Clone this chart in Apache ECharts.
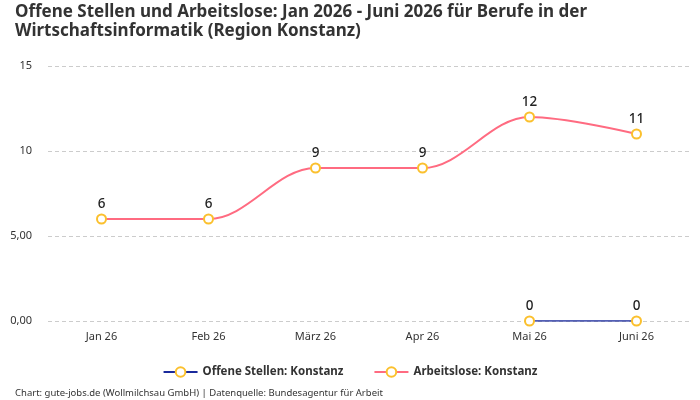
<!DOCTYPE html>
<html><head><meta charset="utf-8">
<script src="https://cdn.jsdelivr.net/npm/echarts@6/dist/echarts.min.js"></script>
<style>html,body{margin:0;padding:0;background:#fff}#c{width:700px;height:400px}</style>
</head><body><div id="c"></div>
<script>
const categories = ['Jan 26','Feb 26','März 26','Apr 26','Mai 26','Juni 26'];
const offeneStellen = [null,null,null,null,0,0];
const arbeitslose = [6,6,9,9,12,11];
const yTickValues = [0,5,10,15];
const yTickLabels = ['0,00','5,00','10','15'];
const titleText = 'Offene Stellen und Arbeitslose: Jan 2026 - Juni 2026 für Berufe in der\nWirtschaftsinformatik (Region Konstanz)';
const footerText = 'Chart: gute-jobs.de (Wollmilchsau GmbH) | Datenquelle: Bundesagentur für Arbeit';
const FONT = 'Noto Sans';
const chart = echarts.init(document.getElementById('c'));
const markerColor = '#fbc02d';
function seriesOf(name, data, color, w){
  return {
    name, type:'line', data, smooth:0.35, connectNulls:false,
    symbol:'circle', symbolSize:9,
    itemStyle:{color:'#fff', borderColor:markerColor, borderWidth:2},
    lineStyle:{color, width:w},
    label:{show:true, position:'top', distance:2, color:'#222', fontSize:13.5, fontWeight:500, fontFamily:FONT},
    emphasis:{disabled:true}
  };
}
chart.setOption({
  animation:false,
  title:[{text:titleText, left:10, top:-2, textStyle:{fontFamily:FONT, fontSize:17, fontWeight:'bold', color:'#333', lineHeight:19}},
         {text:footerText, left:10, bottom:-3, textStyle:{fontFamily:FONT, fontSize:9.5, fontWeight:'normal', color:'#333'}}],
  legend:{bottom:17, left:'center', itemWidth:34, itemHeight:12, itemGap:30,
    textStyle:{fontFamily:FONT, fontSize:11.5, fontWeight:'bold', color:'#333'},
    data:['Offene Stellen: Konstanz','Arbeitslose: Konstanz']},
  grid:{left:48, right:10, top:66, bottom:79},
  xAxis:{type:'category', data:categories, boundaryGap:true,
    axisLine:{show:false}, axisTick:{show:false},
    axisLabel:{fontFamily:FONT, fontSize:11, color:'#333', margin:10}},
  yAxis:{type:'value', min:0, max:15, interval:5,
    axisLine:{show:false}, axisTick:{show:false},
    splitLine:{lineStyle:{type:[4,3], color:'#ccc'}},
    axisLabel:{fontFamily:FONT, fontSize:11, color:'#333', margin:16,
      formatter:v=>{const i=yTickValues.indexOf(v);return i>=0?yTickLabels[i]:'';}}},
  series:[seriesOf('Offene Stellen: Konstanz', offeneStellen, '#1a2a9c', 1.5),
          seriesOf('Arbeitslose: Konstanz', arbeitslose, '#ff6b81', 2)]
});
</script></body></html>
